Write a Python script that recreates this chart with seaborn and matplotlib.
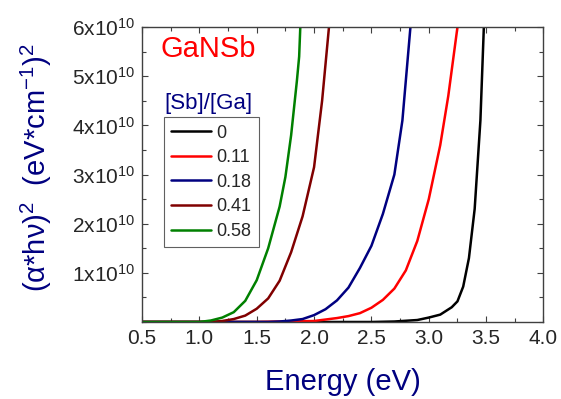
# Tauc plot, GaNSb films with different [Sb]/[Ga]
import numpy as np
import pandas as pd
from matplotlib import pyplot as plt
from matplotlib.ticker import MultipleLocator, FormatStrFormatter
import seaborn as sns

# data (energy in eV, (alpha*h*nu)^2 in units of 1e10)
sb_ratio = ['0', '0.11', '0.18', '0.41', '0.58']
line_colors = ['#000000', '#ff0000', '#000080', '#800000', '#008000']

e_0 = [0.5, 2.5, 2.7, 2.9, 3.0, 3.1, 3.2, 3.25, 3.3, 3.35, 3.4, 3.45, 3.48]
y_0 = [0, 0, 0.01, 0.04, 0.09, 0.15, 0.3, 0.42, 0.72, 1.3, 2.3, 4.1, 6.0]

e_011 = [0.5, 1.5, 2.0, 2.1, 2.2, 2.3, 2.4, 2.5, 2.6, 2.7, 2.8, 2.9, 3.0, 3.1, 3.17, 3.25]
y_011 = [0, 0, 0.02, 0.05, 0.08, 0.12, 0.18, 0.29, 0.45, 0.68, 1.05, 1.65, 2.5, 3.6, 4.6, 6.0]

e_018 = [0.5, 1.6, 1.7, 1.8, 1.9, 2.0, 2.1, 2.2, 2.3, 2.4, 2.5, 2.6, 2.7, 2.77, 2.84]
y_018 = [0, 0, 0.01, 0.03, 0.06, 0.14, 0.26, 0.44, 0.70, 1.1, 1.55, 2.2, 3.0, 4.1, 6.0]

e_041 = [0.5, 1.1, 1.2, 1.3, 1.4, 1.5, 1.6, 1.7, 1.8, 1.9, 2.0, 2.07, 2.13]
y_041 = [0, 0, 0.02, 0.06, 0.13, 0.27, 0.48, 0.84, 1.42, 2.15, 3.15, 4.5, 6.0]

e_058 = [0.5, 1.0, 1.1, 1.2, 1.3, 1.4, 1.5, 1.6, 1.7, 1.75, 1.8, 1.85, 1.87, 1.88]
y_058 = [0, 0, 0.03, 0.09, 0.2, 0.43, 0.85, 1.5, 2.35, 2.95, 3.8, 4.9, 5.4, 6.0]

energies = [e_0, e_011, e_018, e_041, e_058]
values = [y_0, y_011, y_018, y_041, y_058]

# long table for seaborn
frames = []
for lab, e, y in zip(sb_ratio, energies, values):
    frames.append(pd.DataFrame({'energy': e, 'tauc': np.array(y) * 1e10, 'ratio': lab}))
df = pd.concat(frames, ignore_index=True)

sns.set_style('ticks')
plt.rcParams['font.family'] = ['Liberation Sans', 'DejaVu Sans']
plt.rcParams['mathtext.fontset'] = 'custom'
plt.rcParams['mathtext.rm'] = 'Liberation Sans'

fig = plt.figure(figsize=(5.61, 3.99), dpi=100)
ax = fig.add_axes([0.2531, 0.193, 0.7157, 0.739])

sns.lineplot(data=df, x='energy', y='tauc', hue='ratio', hue_order=sb_ratio,
             palette=line_colors, sort=False, estimator=None, linewidth=1.8,
             legend=True, ax=ax)

ax.set_xlim(0.5, 4.0)
ax.set_ylim(0, 6e10)
ax.xaxis.set_major_locator(MultipleLocator(0.5))
ax.xaxis.set_minor_locator(MultipleLocator(0.25))
ax.xaxis.set_major_formatter(FormatStrFormatter('%.1f'))
ax.set_yticks([i * 1e10 for i in range(1, 7)])
ax.set_yticklabels([r'$\mathregular{%dx10^{10}}$' % i for i in range(1, 7)])
ax.yaxis.set_minor_locator(MultipleLocator(0.5e10))

ax.tick_params(which='both', direction='in', top=True, right=True,
               color='#404040', labelsize=15, width=0.8)
ax.tick_params(which='major', length=4, pad=5)
ax.tick_params(which='minor', length=3)
for s in ax.spines.values():
    s.set_color('#404040')
    s.set_linewidth(1.0)

ax.set_xlabel('Energy (eV)', fontsize=21, color='#000080', va='center')
ax.xaxis.set_label_coords(0.5, -0.205)
ax.set_ylabel(r'(α*hν)$^\mathregular{2}$  (eV*cm$^\mathregular{-1}$)$^\mathregular{2}$',
              fontsize=21, color='#000080', va='center')
ax.yaxis.set_label_coords(-0.264, 0.525)

ax.text(0.045, 0.925, 'GaNSb', transform=ax.transAxes, color='#ff0000',
        fontsize=21, va='center', ha='left')
ax.text(0.055, 0.74, '[Sb]/[Ga]', transform=ax.transAxes, color='#000080',
        fontsize=16, va='center', ha='left')

leg = ax.legend(loc='upper left', bbox_to_anchor=(0.055, 0.694), fontsize=13,
                frameon=True, fancybox=False, framealpha=1, edgecolor='#606060',
                handlelength=2.2, handletextpad=0.3, labelspacing=0.42,
                borderpad=0.4, borderaxespad=0)
leg.get_frame().set_linewidth(0.8)

plt.savefig('out.png', dpi=100)
